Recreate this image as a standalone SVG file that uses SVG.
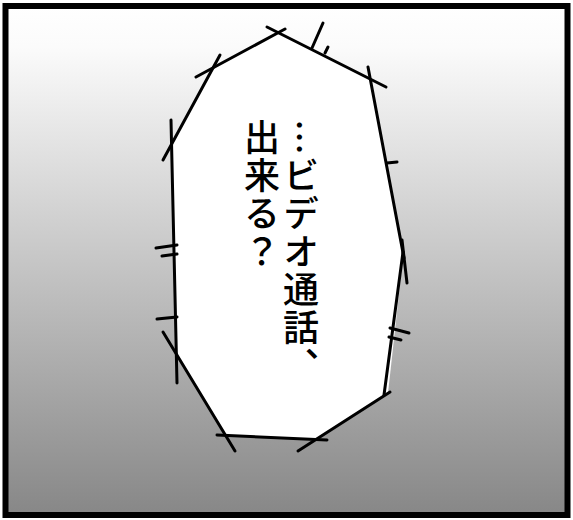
<svg xmlns="http://www.w3.org/2000/svg" width="573" height="520" viewBox="0 0 573 520">
<defs>
<linearGradient id="bg" x1="0" y1="0" x2="0" y2="1">
<stop offset="0" stop-color="#ffffff"/>
<stop offset="0.08" stop-color="#fbfbfb"/>
<stop offset="1" stop-color="#878787"/>
</linearGradient>
</defs>
<style>
.ln{stroke:#000;stroke-width:3;stroke-linecap:round;fill:none}
.tx{font-family:"Noto Sans CJK JP","Noto Sans",sans-serif;font-size:36px;font-weight:500;fill:#000;writing-mode:vertical-rl;letter-spacing:2px}
</style>
<rect x="0" y="0" width="573" height="520" fill="#ffffff"/>
<rect x="5.5" y="6" width="562" height="509" fill="url(#bg)" stroke="#000" stroke-width="6"/>
<g id="bubble">
<polygon points="278,33 371,81 403,258 388,393 317,439 225,435 177,355 171,144 213,69" fill="#fff"/>
<g class="ln">
<line x1="196" y1="77" x2="285" y2="29"/>
<line x1="267" y1="27" x2="386" y2="87"/>
<line x1="323" y1="23" x2="312" y2="48"/>
<line x1="328" y1="47" x2="325" y2="53"/>
<line x1="163" y1="160" x2="220" y2="55"/>
<line x1="171" y1="120" x2="177" y2="383"/>
<line x1="368" y1="67" x2="404" y2="258"/>
<line x1="387" y1="163" x2="397" y2="162"/>
<line x1="402" y1="240" x2="407" y2="283"/>
<line x1="403" y1="252" x2="384" y2="395"/>
<line x1="390" y1="328" x2="409" y2="333"/>
<line x1="389" y1="337" x2="401" y2="340"/>
<line x1="298" y1="451" x2="390" y2="392"/>
<line x1="217" y1="435" x2="327" y2="440"/>
<line x1="163" y1="332" x2="235" y2="451"/>
<line x1="156" y1="248" x2="177" y2="245"/>
<line x1="162" y1="256" x2="177" y2="254"/>
<line x1="157" y1="319" x2="177" y2="317"/>
</g>
</g>
<g id="text">
<text class="tx" x="301" y="119">…ビデオ通話、</text>
<text class="tx" x="262" y="119">出来る？</text>
</g>
</svg>
